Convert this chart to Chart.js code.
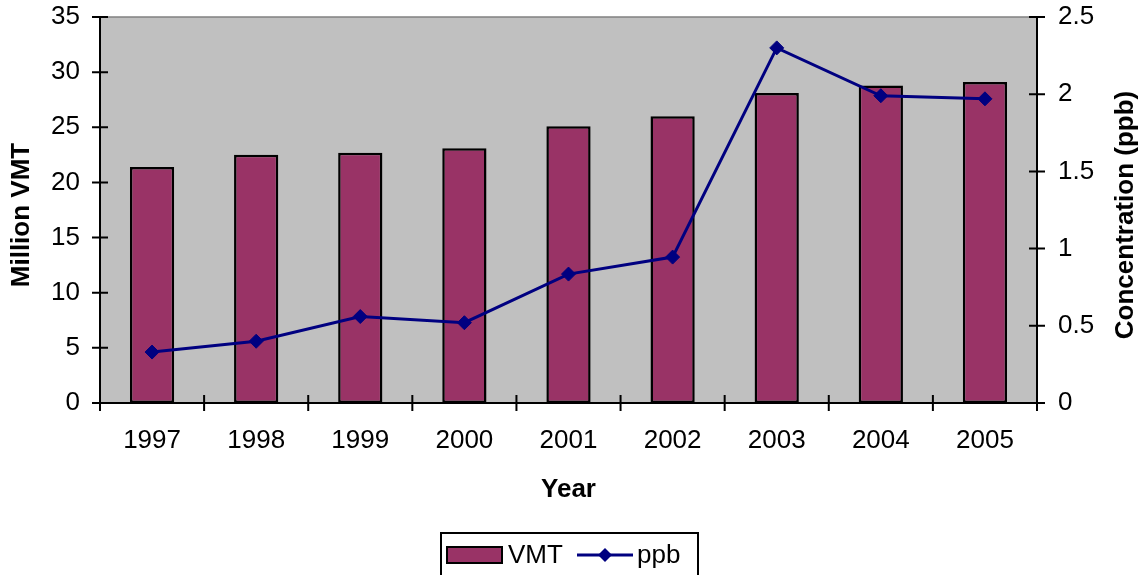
<!DOCTYPE html>
<html>
<head>
<meta charset="utf-8">
<script src="https://cdn.jsdelivr.net/npm/chart.js@4"></script>
<style>
  html, body { margin: 0; padding: 0; background: #ffffff; }
  #wrap { width: 1140px; height: 575px; }
</style>
</head>
<body>
<div id="wrap"><canvas id="c" width="1140" height="575"></canvas></div>
<script>
// Vehicle miles travelled (millions) and measured concentration (ppb) by year
const years = ['1997', '1998', '1999', '2000', '2001', '2002', '2003', '2004', '2005'];
const vmtMillions = [21.4, 22.5, 22.7, 23.1, 25.1, 26.0, 28.1, 28.8, 29.1];
const ppbValues = [0.33, 0.40, 0.56, 0.52, 0.835, 0.945, 2.30, 1.99, 1.97];

const vmtAxis = { min: 0, max: 35, step: 5 };
const ppbAxis = { min: 0, max: 2.5, step: 0.5 };

const FONT = '"Liberation Sans", Arial, sans-serif';
const BAR_COLOR = '#993366';
const LINE_COLOR = '#000080';
const PLOT_BG = '#C0C0C0';

// grey plot area with darker top edge
const plotBackground = {
  id: 'plotBackground',
  beforeDraw(chart) {
    const { ctx, chartArea: a } = chart;
    ctx.save();
    ctx.fillStyle = PLOT_BG;
    ctx.fillRect(a.left, a.top, a.right - a.left, a.bottom - a.top);
    ctx.strokeStyle = '#808080';
    ctx.lineWidth = 1.5;
    ctx.beginPath();
    ctx.moveTo(a.left, a.top);
    ctx.lineTo(a.right, a.top);
    ctx.stroke();
    ctx.restore();
  }
};

// axis lines with tick marks crossing the axes
const axisFrame = {
  id: 'axisFrame',
  afterDatasetsDraw(chart) {
    const { ctx, chartArea: a, scales } = chart;
    const half = 8;
    ctx.save();
    ctx.strokeStyle = '#000000';
    ctx.lineWidth = 2;
    ctx.beginPath();
    ctx.moveTo(a.left, a.top); ctx.lineTo(a.left, a.bottom);
    ctx.moveTo(a.right, a.top); ctx.lineTo(a.right, a.bottom);
    ctx.moveTo(a.left - 1, a.bottom); ctx.lineTo(a.right + 1, a.bottom);
    scales.y.ticks.forEach(t => {
      const py = scales.y.getPixelForValue(t.value);
      ctx.moveTo(a.left - half, py); ctx.lineTo(a.left + half, py);
    });
    scales.y1.ticks.forEach(t => {
      const py = scales.y1.getPixelForValue(t.value);
      ctx.moveTo(a.right - half, py); ctx.lineTo(a.right + half, py);
    });
    const x = scales.x;
    const n = years.length;
    for (let k = 0; k <= n; k++) {
      const px = x.left + (x.right - x.left) * k / n;
      ctx.moveTo(px, a.bottom - half); ctx.lineTo(px, a.bottom + half);
    }
    ctx.stroke();
    ctx.restore();
  }
};

// rotated titles for both value axes, reading bottom to top
const sideTitles = {
  id: 'sideTitles',
  afterDraw(chart) {
    const { ctx, chartArea: a } = chart;
    const cy = (a.top + a.bottom) / 2 + 5;
    ctx.save();
    ctx.fillStyle = '#000000';
    ctx.font = 'bold 26px ' + FONT;
    ctx.textAlign = 'center';
    ctx.textBaseline = 'middle';
    [[22, 'Million VMT'], [1126, 'Concentration (ppb)']].forEach(([cx, text]) => {
      ctx.save();
      ctx.translate(cx, cy);
      ctx.rotate(-Math.PI / 2);
      ctx.fillText(text, 0, 0);
      ctx.restore();
    });
    ctx.restore();
  }
};

// framed legend below the axis title
const boxedLegend = {
  id: 'boxedLegend',
  afterDraw(chart) {
    const { ctx } = chart;
    const bar = chart.data.datasets[0];
    const line = chart.data.datasets[1];
    const left = 441, right = 698, top = 533, cy = 555;
    ctx.save();
    ctx.strokeStyle = '#000000';
    ctx.lineWidth = 2;
    ctx.strokeRect(left, top, right - left, 60);

    ctx.fillStyle = bar.backgroundColor;
    ctx.fillRect(447, 547, 55, 16);
    ctx.strokeRect(447, 547, 55, 16);

    ctx.fillStyle = '#000000';
    ctx.font = '26px ' + FONT;
    ctx.textAlign = 'left';
    ctx.textBaseline = 'middle';
    ctx.fillText(bar.label, 508, cy + 1);

    ctx.strokeStyle = line.borderColor;
    ctx.lineWidth = 3;
    ctx.beginPath();
    ctx.moveTo(577, cy); ctx.lineTo(633, cy);
    ctx.stroke();
    ctx.fillStyle = line.pointBackgroundColor;
    ctx.beginPath();
    ctx.moveTo(605, cy - 7); ctx.lineTo(612, cy); ctx.lineTo(605, cy + 7); ctx.lineTo(598, cy);
    ctx.closePath();
    ctx.fill();

    ctx.fillStyle = '#000000';
    ctx.fillText(line.label, 637, cy + 1);
    ctx.restore();
  }
};

// drop the label overhang so the plot area keeps its fixed frame
function fixVertical(width) {
  return s => { s.width = width; s.paddingTop = 0; s.paddingBottom = 0; };
}
const plainNumber = v => String(v);

new Chart(document.getElementById('c'), {
  data: {
    labels: years,
    datasets: [
      {
        type: 'bar',
        label: 'VMT',
        data: vmtMillions,
        yAxisID: 'y',
        backgroundColor: BAR_COLOR,
        borderColor: '#000000',
        borderWidth: 2.5,
        borderSkipped: false,
        categoryPercentage: 1.0,
        barPercentage: 0.425,
        order: 2
      },
      {
        type: 'line',
        label: 'ppb',
        data: ppbValues,
        yAxisID: 'y1',
        borderColor: LINE_COLOR,
        borderWidth: 3,
        pointStyle: 'rectRot',
        pointRadius: 7,
        pointBorderWidth: 1,
        pointBackgroundColor: LINE_COLOR,
        pointBorderColor: LINE_COLOR,
        tension: 0,
        fill: false,
        order: 1
      }
    ]
  },
  options: {
    responsive: false,
    animation: false,
    devicePixelRatio: 1,
    layout: { padding: { top: 17, bottom: 66, left: 0, right: 0 } },
    plugins: {
      legend: { display: false },
      tooltip: { enabled: false }
    },
    scales: {
      x: {
        type: 'category',
        offset: true,
        grid: { display: false, drawTicks: false },
        border: { display: false },
        ticks: { color: '#000', font: { family: FONT, size: 26, lineHeight: 1.2 }, padding: 22, maxRotation: 0, autoSkip: false },
        title: { display: true, text: 'Year', color: '#000', font: { family: FONT, size: 26, weight: 'bold', lineHeight: 1.2 }, padding: { top: 4, bottom: 4 } },
        afterFit(s) { s.height = 106; s.paddingLeft = 0; s.paddingRight = 0; }
      },
      y: {
        type: 'linear',
        position: 'left',
        min: vmtAxis.min,
        max: vmtAxis.max,
        grid: { display: false, drawTicks: false },
        border: { display: false },
        ticks: { stepSize: vmtAxis.step, color: '#000', font: { family: FONT, size: 26 }, padding: 20, callback: plainNumber },
        afterFit: fixVertical(100)
      },
      y1: {
        type: 'linear',
        position: 'right',
        min: ppbAxis.min,
        max: ppbAxis.max,
        grid: { display: false, drawTicks: false },
        border: { display: false },
        ticks: { stepSize: ppbAxis.step, color: '#000', font: { family: FONT, size: 26 }, padding: 21, callback: plainNumber },
        afterFit: fixVertical(103)
      }
    }
  },
  plugins: [plotBackground, axisFrame, sideTitles, boxedLegend]
});
</script>
</body>
</html>
